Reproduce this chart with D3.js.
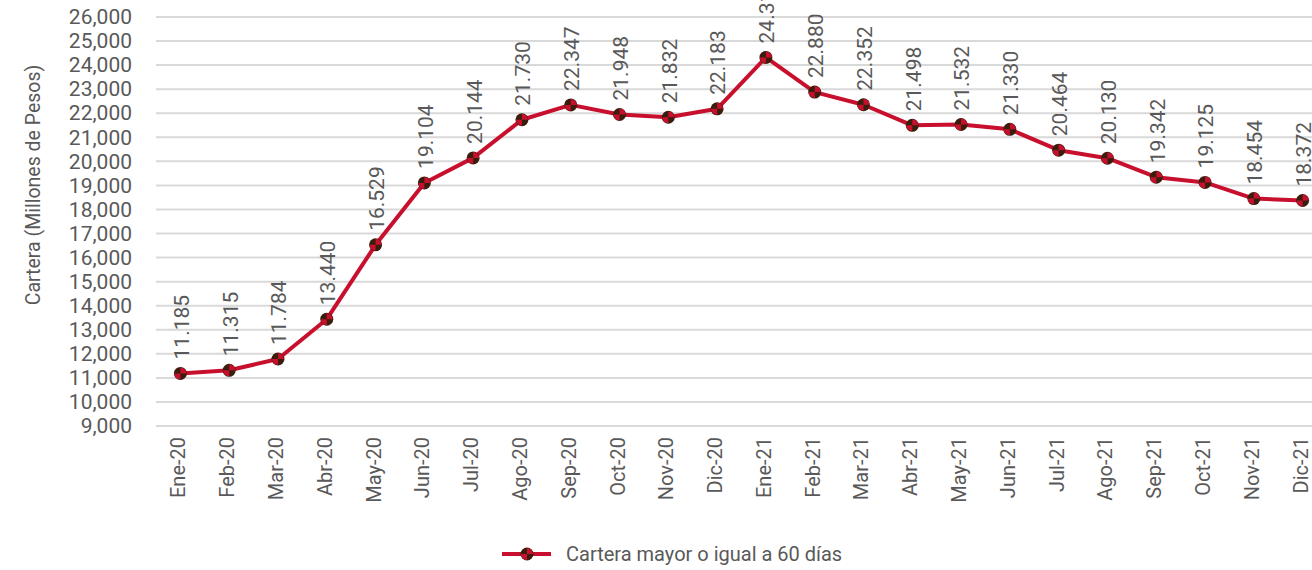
<!DOCTYPE html>
<html lang="es">
<head>
  <meta charset="UTF-8">
  <title>Cartera mayor o igual a 60 días</title>
  <style>
    body {
      margin: 0;
      background: white;
    }
    svg {
      display: block;
      font-family: Roboto, "DejaVu Sans", sans-serif;
    }
    .tick text, .val-label, .legend-text, .y-title {
      fill: #595959;
    }
  </style>
  <script src="https://d3js.org/d3.v7.min.js"></script>
</head>
<body>
  <div id="chart"></div>
  <script>
    const months = ["Ene-20", "Feb-20", "Mar-20", "Abr-20", "May-20", "Jun-20", "Jul-20", "Ago-20",
      "Sep-20", "Oct-20", "Nov-20", "Dic-20", "Ene-21", "Feb-21", "Mar-21", "Abr-21", "May-21",
      "Jun-21", "Jul-21", "Ago-21", "Sep-21", "Oct-21", "Nov-21", "Dic-21"];
    const cartera = [11185, 11315, 11784, 13440, 16529, 19104, 20144, 21730, 22347, 21948, 21832,
      22183, 24318, 22880, 22352, 21498, 21532, 21330, 20464, 20130, 19342, 19125, 18454, 18372];
    const yTicks = d3.range(9000, 26001, 1000);
    const seriesName = "Cartera mayor o igual a 60 días";

    const red = "#c8102e";
    const dark = "#3a1d0c";

    const width = 1312, height = 570;
    const svg = d3.select("#chart").append("svg")
      .attr("width", width)
      .attr("height", height);

    const x = d3.scaleBand()
      .domain(months)
      .range([156, 1327]);

    const y = d3.scaleLinear()
      .domain([9000, 26000])
      .range([426, 17]);

    // grid lines
    svg.append("g")
      .selectAll("line")
      .data(yTicks)
      .join("line")
      .attr("x1", 156)
      .attr("x2", width)
      .attr("y1", d => y(d))
      .attr("y2", d => y(d))
      .attr("stroke", "#d9d9d9")
      .attr("stroke-width", 2);

    // y axis labels
    const yAxis = svg.append("g")
      .attr("transform", "translate(132,0)")
      .call(d3.axisLeft(y).tickValues(yTicks).tickFormat(d3.format(",")).tickSize(0).tickPadding(0));
    yAxis.select(".domain").remove();
    yAxis.selectAll("text")
      .style("font-size", "21px")
      .style("font-family", "Roboto, sans-serif");

    svg.append("text")
      .attr("class", "y-title")
      .attr("transform", "translate(40,185) rotate(-90)")
      .attr("text-anchor", "middle")
      .style("font-size", "19.5px")
      .text("Cartera (Millones de Pesos)");

    // x axis labels
    const xAxis = svg.append("g")
      .attr("transform", "translate(0,426)")
      .call(d3.axisBottom(x).tickSize(0).tickPadding(0));
    xAxis.select(".domain").remove();
    xAxis.selectAll("text")
      .attr("transform", "rotate(-90)")
      .attr("text-anchor", "end")
      .attr("x", -11)
      .attr("y", -2)
      .attr("dy", "0.35em")
      .style("font-size", "20px")
      .style("font-family", "Roboto, sans-serif");

    const cx = (d, i) => x(months[i]) + x.bandwidth() / 2;

    const line = d3.line()
      .x((d, i) => cx(d, i))
      .y(d => y(d));

    svg.append("path")
      .datum(cartera)
      .attr("d", line)
      .attr("fill", "none")
      .attr("stroke", red)
      .attr("stroke-width", 4)
      .attr("stroke-linejoin", "round");

    const quarter1 = d3.arc().innerRadius(0).outerRadius(6).startAngle(0).endAngle(Math.PI / 2);
    const quarter2 = d3.arc().innerRadius(0).outerRadius(6).startAngle(Math.PI).endAngle(Math.PI * 1.5);

    function marker(g) {
      g.append("circle").attr("r", 6.5).attr("fill", dark);
      g.append("path").attr("d", quarter1()).attr("fill", red);
      g.append("path").attr("d", quarter2()).attr("fill", red);
    }

    svg.append("g")
      .selectAll("g")
      .data(cartera)
      .join("g")
      .attr("transform", (d, i) => `translate(${cx(d, i)},${y(d)})`)
      .each(function() { marker(d3.select(this)); });

    const es = d3.formatLocale({ decimal: ",", thousands: ".", grouping: [3], currency: ["$", ""] });
    const fmt = es.format(",");

    svg.append("g")
      .selectAll("text")
      .data(cartera)
      .join("text")
      .attr("class", "val-label")
      .attr("transform", (d, i) => `translate(${cx(d, i) + 1},${y(d) - 14}) rotate(-90)`)
      .attr("dy", "0.35em")
      .style("font-size", "21px")
      .text(d => fmt(d));

    // legend
    const legend = svg.append("g").attr("transform", "translate(502,554)");
    legend.append("line")
      .attr("x1", 0).attr("x2", 49)
      .attr("stroke", red)
      .attr("stroke-width", 4);
    const lm = legend.append("g").attr("transform", "translate(25,0)");
    marker(lm);
    legend.append("text")
      .attr("class", "legend-text")
      .attr("x", 64)
      .attr("dy", "0.35em")
      .style("font-size", "20px")
      .text(seriesName);
  </script>
</body>
</html>
